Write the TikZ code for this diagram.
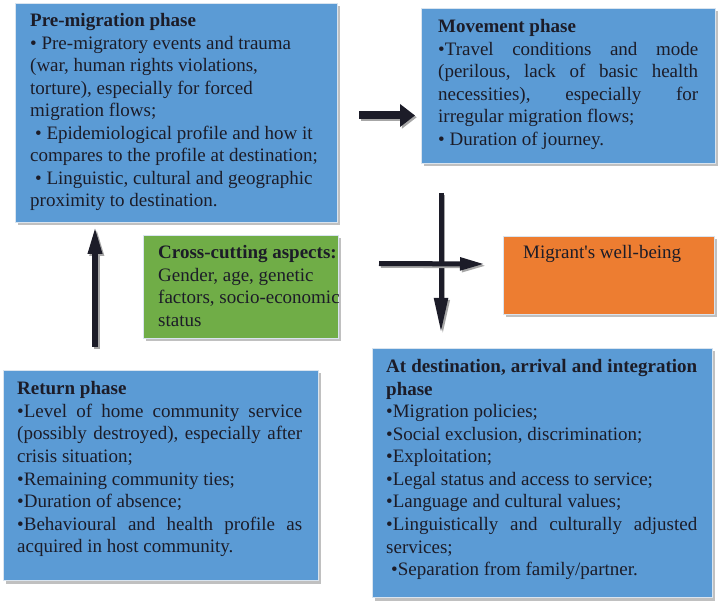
\documentclass[tikz,border=0pt]{standalone}
\usepackage{fontspec}
\setmainfont{Liberation Serif}
\usetikzlibrary{arrows.meta,calc,shadows}
\definecolor{boxblue}{HTML}{5B9BD5}
\definecolor{boxgreen}{HTML}{70AD47}
\definecolor{boxorange}{HTML}{ED7D31}
\definecolor{ink}{HTML}{1C1C28}
\definecolor{rim}{HTML}{D9E4EF}
\newcommand{\R}{\frenchspacing\spaceskip=0pt\xspaceskip=0pt\relax}
\newcommand{\J}[2]{\makebox[#1][s]{\R#2}}
\begin{document}
\begin{tikzpicture}[x=1pt,y=-1pt,
  panel/.style={draw=rim, line width=1pt, anchor=north west, inner sep=0pt,
    drop shadow={shadow xshift=2pt,shadow yshift=-3pt,fill=black!45,opacity=0.55}},
  bluepanel/.style={panel, fill=boxblue},
  greenpanel/.style={panel, fill=boxgreen},
  orangepanel/.style={panel, fill=boxorange},
  txt/.style={anchor=base west, inner sep=0pt, align=left, text=ink,
    font=\fontsize{19pt}{22.5pt}\selectfont},
  arr/.style={draw=ink, line width=#1},
  arrsh/.style={draw=black!35, line width=#1, transform canvas={xshift=1.8pt,yshift=-1.8pt}},
]
\useasboundingbox (0,0) rectangle (720,609);

% panels
\node[bluepanel, minimum width=322pt, minimum height=219pt] (pre) at (15,3) {};
\node[bluepanel, minimum width=294pt, minimum height=155pt] (mov) at (421,8) {};
\node[greenpanel, minimum width=195pt, minimum height=103pt] (cross) at (143,235) {};
\node[orangepanel, minimum width=211pt, minimum height=78pt] (well) at (503,236) {};
\node[bluepanel, minimum width=315pt, minimum height=210pt] (ret) at (3,370) {};
\node[bluepanel, minimum width=340pt, minimum height=249pt] (dest) at (372,348) {};

% texts
\node[txt, text width=310pt] (pretxt) at (30,27) {\R\textbf{Pre-migration phase}\\
• Pre-migratory events and trauma\\
(war, human rights violations,\\
torture), especially for forced\\
migration flows;\\
\hspace*{5pt}• Epidemiological profile and how it\\
compares to the profile at destination;\\
\hspace*{5pt}• Linguistic, cultural and geographic\\
proximity to destination.};

\node[txt, text width=262pt] (movtxt) at (438,33) {\R\textbf{Movement phase}\\
\J{260pt}{•Travel conditions and mode}\\
\J{260pt}{(perilous, lack of basic health}\\
\J{260pt}{necessities), especially for}\\
irregular migration flows;\\
• Duration of journey.};

\node[txt, text width=195pt] (crosstxt) at (158,259) {\R\textbf{Cross-cutting aspects:}\\
Gender, age, genetic\\
factors, socio-economic\\
status};

\node[txt, text width=190pt] (welltxt) at (523,259) {\R Migrant\textquotesingle s well-being};

\node[txt, text width=290pt] (rettxt) at (17,395) {\R\textbf{Return phase}\\
\J{285pt}{•Level of home community service}\\
\J{285pt}{(possibly destroyed), especially after}\\
crisis situation;\\
•Remaining community ties;\\
•Duration of absence;\\
\J{285pt}{•Behavioural and health profile as}\\
acquired in host community.};

\node[txt, text width=315pt] (desttxt) at (386,373) {\R\J{311pt}{\textbf{At destination, arrival and integration}}\\
\textbf{phase}\\
•Migration policies;\\
•Social exclusion, discrimination;\\
•Exploitation;\\
•Legal status and access to service;\\
•Language and cultural values;\\
\J{311pt}{•Linguistically and culturally adjusted}\\
services;\\
\hspace*{5pt}•Separation from family/partner.};

% arrows
\coordinate (a1s) at ($(pre.east)+(21,2.5)$);
\coordinate (a1e) at ($(mov.west |- pre.east)+(-6,2.5)$);
\draw[arrsh=8pt, -{Triangle[length=15pt,width=22pt]}] (a1s) -- (a1e);
\draw[arr=8pt, -{Triangle[length=15pt,width=22pt]}] (a1s) -- (a1e);

\coordinate (a2s) at ($(ret.north west)+(92,-23)$);
\coordinate (a2e) at ($(pre.south west)+(80,3)$);
\draw[arrsh=6pt, -{Triangle[length=28pt,width=13pt]}] (a2s) -- (a2e);
\draw[arr=6pt, -{Triangle[length=28pt,width=13pt]}] (a2s) -- (a2e);

\coordinate (a3s) at ($(mov.south west)+(20,29)$);
\coordinate (a3e) at ($(dest.north west)+(69,-15)$);
\draw[arrsh=5pt, -{Triangle[length=35pt,width=13pt]}] (a3s) -- (a3e);
\draw[arr=5pt, -{Triangle[length=35pt,width=13pt]}] (a3s) -- (a3e);

\coordinate (a4s) at ($(cross.east)+(40,-23.5)$);
\coordinate (a4e) at ($(well.west)+(-18,-11.5)$);
\draw[arrsh=5pt, -{Triangle[length=25pt,width=12pt]}] (a4s) -- (a4e);
\draw[arr=5pt, -{Triangle[length=25pt,width=12pt]}] (a4s) -- (a4e);
\end{tikzpicture}
\end{document}
